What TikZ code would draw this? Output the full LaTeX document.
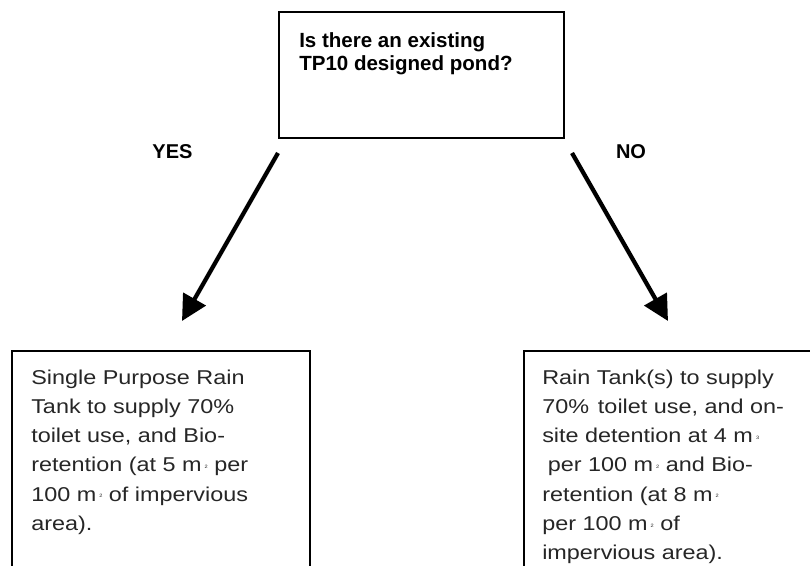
\documentclass[tikz,border=0pt]{standalone}
\usepackage{fontspec}
\setmainfont{Liberation Sans}
\newfontfamily\bodyfont[FakeStretch=1.17]{Liberation Sans}
\usetikzlibrary{arrows.meta}
% tiny unit exponent set just after "m"
\newcommand\tinysup[1]{\kern0.15em\raisebox{0.3ex}{\fontsize{3.6}{3.6}\selectfont #1}}

\begin{document}
\begin{tikzpicture}[x=0.75pt,y=-0.75pt,
  frame/.style={draw=black, line width=1.2pt, inner sep=0pt, anchor=north west},
  question/.style={font=\bfseries\fontsize{15.4}{17.5}\selectfont, align=left, anchor=north west, inner sep=0pt},
  answer/.style={font=\bodyfont\fontsize{15}{21.9}\selectfont, text=black!85, align=left, anchor=north west, inner sep=0pt},
  branch/.style={font=\bfseries\fontsize{15}{18}\selectfont, inner sep=0pt},
  flow/.style={line width=3.2pt, -{Triangle[length=19pt,width=19pt]}}]

\useasboundingbox (0,0) rectangle (810,566);
\clip (0,0) rectangle (810,566);

% decision box
\node[frame, minimum width=213.75pt, minimum height=94.5pt] (q) at (278,11) {};
\node[question] (qtext) at (299,32) {Is there an existing\\TP10 designed pond?};

% outcome boxes (run past the lower edge)
\node[frame, minimum width=223.5pt, minimum height=202.5pt] (yesbox) at (11,350) {};
\node[frame, minimum width=245.25pt, minimum height=202.5pt] (nobox) at (523,350) {};

\node[answer] (yestext) at (31,369.5) {Single Purpose Rain\\Tank to supply 70\%\\toilet use, and Bio-\\retention (at 5 m\tinysup{2} per\\100 m\tinysup{2} of impervious\\area).};
\node[answer] (notext) at (542,369.5) {Rain Tank(s) to supply\\70\%\hspace{0.12em} toilet use, and on-\\site detention at 4 m\tinysup{3}\\\hspace*{0.28em}per 100 m\tinysup{2} and Bio-\\retention (at 8 m\tinysup{2}\\per 100 m\tinysup{2} of\\impervious area).};

% branch labels
\node[branch] (yes) at (172.5,152) {YES};
\node[branch] (no) at (631,152) {NO};

% branch arrows
\coordinate (yesfrom) at (278,153);
\coordinate (yesto) at (182,321);
\coordinate (nofrom) at (572,153);
\coordinate (noto) at (668,321);
\draw[flow] (yesfrom) -- (yesto);
\draw[flow] (nofrom) -- (noto);
\end{tikzpicture}
\end{document}
